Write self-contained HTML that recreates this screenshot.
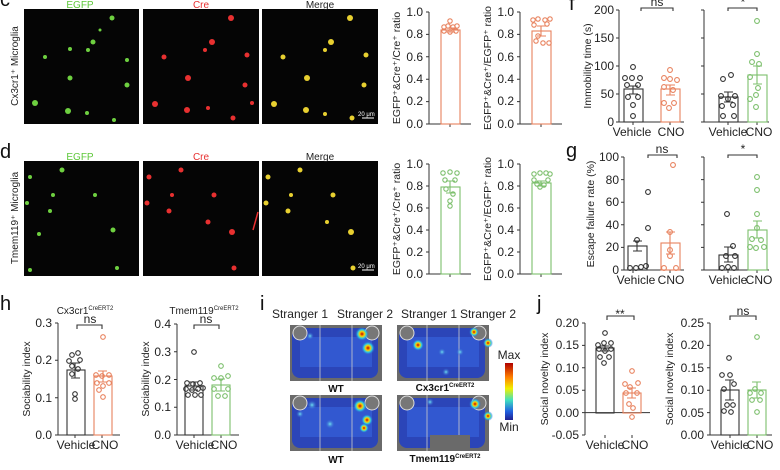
<!DOCTYPE html>
<html><head><meta charset="utf-8"><style>
body{margin:0;background:#fff}
svg{display:block;font-family:"Liberation Sans",Arial,sans-serif}
.t{font-size:12px;fill:#222}
.al{font-size:10.5px;fill:#222}
.ax{stroke:#333;stroke-width:1;fill:none}
.o{stroke:#e8825e;fill:none;stroke-width:1.1}
.g{stroke:#7cbf6c;fill:none;stroke-width:1.1}
.k{stroke:#333;fill:none;stroke-width:1.1}
.L{font-size:20px;fill:#111}
</style></head><body>
<svg width="780" height="470" viewBox="0 0 780 470">
<defs>
<radialGradient id="hot"><stop offset="0" stop-color="#c00000"/><stop offset=".35" stop-color="#ffd000"/><stop offset=".6" stop-color="#30d0e0"/><stop offset="1" stop-color="#2a50d0" stop-opacity="0"/></radialGradient>
<radialGradient id="cy"><stop offset="0" stop-color="#6fe0f0"/><stop offset="1" stop-color="#2a50d0" stop-opacity="0"/></radialGradient>
<linearGradient id="cb" x1="0" y1="0" x2="0" y2="1"><stop offset="0" stop-color="#b00000"/><stop offset=".25" stop-color="#ff8000"/><stop offset=".45" stop-color="#f0f000"/><stop offset=".65" stop-color="#40e0c0"/><stop offset=".85" stop-color="#2060e0"/><stop offset="1" stop-color="#202090"/></linearGradient>
</defs>

<!-- Microscopy -->
<g>
<rect x="24" y="9" width="115" height="115" fill="#050505"/><rect x="143" y="9" width="116" height="115" fill="#050505"/><rect x="262" y="9" width="116" height="115" fill="#050505"/>
<rect x="24" y="161" width="115" height="115" fill="#050505"/><rect x="143" y="161" width="116" height="115" fill="#050505"/><rect x="262" y="161" width="116" height="115" fill="#050505"/>
<g fill="#6ed040">
<circle cx="112" cy="18" r="2.5"/><circle cx="93" cy="42" r="2.5"/><circle cx="88" cy="50" r="2"/><circle cx="70" cy="49" r="2"/><circle cx="45" cy="57" r="2"/><circle cx="70" cy="78" r="2.5"/><circle cx="127" cy="60" r="2"/><circle cx="127" cy="85" r="2.5"/><circle cx="35" cy="103" r="3"/><circle cx="68" cy="111" r="3"/><circle cx="87" cy="113" r="2"/><circle cx="114" cy="120" r="2"/><circle cx="100" cy="30" r="1.5"/>
<circle cx="62" cy="170" r="2.5"/><circle cx="30" cy="177" r="2"/><circle cx="53" cy="195" r="2"/><circle cx="95" cy="195" r="2"/><circle cx="50" cy="211" r="2"/><circle cx="27" cy="203" r="2"/><circle cx="113" cy="230" r="2.5"/><circle cx="39" cy="234" r="2"/><circle cx="30" cy="270" r="2"/><circle cx="117" cy="268" r="2"/>
</g>
<g fill="#e83030">
<circle cx="231" cy="18" r="3"/><circle cx="212" cy="42" r="3"/><circle cx="205" cy="50" r="2"/><circle cx="164" cy="57" r="2.5"/><circle cx="188" cy="78" r="3"/><circle cx="247" cy="55" r="2.5"/><circle cx="245" cy="85" r="2.5"/><circle cx="155" cy="104" r="3"/><circle cx="187" cy="110" r="3"/><circle cx="208" cy="108" r="2"/><circle cx="233" cy="118" r="2.5"/><circle cx="252" cy="103" r="2"/>
<circle cx="181" cy="170" r="2.5"/><circle cx="149" cy="177" r="2.5"/><circle cx="172" cy="195" r="2"/><circle cx="214" cy="195" r="2.5"/><circle cx="169" cy="211" r="2.5"/><circle cx="147" cy="203" r="2.5"/><circle cx="232" cy="232" r="3"/><circle cx="208" cy="222" r="2.5"/><circle cx="234" cy="268" r="2.5"/>
<line x1="253" y1="230" x2="258" y2="212" stroke="#e83030" stroke-width="1.5"/>
</g>
<g fill="#e8d030">
<circle cx="350" cy="18" r="3"/><circle cx="331" cy="42" r="3"/><circle cx="325" cy="50" r="2"/><circle cx="283" cy="57" r="2.5"/><circle cx="307" cy="78" r="3"/><circle cx="366" cy="55" r="2.5"/><circle cx="364" cy="85" r="2.5"/><circle cx="274" cy="104" r="3"/><circle cx="306" cy="110" r="3"/><circle cx="325" cy="114" r="2"/><circle cx="352" cy="118" r="2.5"/>
<circle cx="300" cy="170" r="2.5"/><circle cx="268" cy="177" r="2.5"/><circle cx="291" cy="195" r="2"/><circle cx="333" cy="195" r="2.5"/><circle cx="288" cy="211" r="2.5"/><circle cx="266" cy="203" r="2.5"/><circle cx="351" cy="232" r="3"/><circle cx="327" cy="222" r="2"/><circle cx="353" cy="268" r="2.5"/>
</g>
<line x1="362" y1="118" x2="374" y2="118" stroke="#fff"/><text x="358" y="116" font-size="6" fill="#fff">20 μm</text>
<line x1="362" y1="270" x2="374" y2="270" stroke="#fff"/><text x="358" y="268" font-size="6" fill="#fff">20 μm</text>
<text x="80" y="8" text-anchor="middle" font-size="10" fill="#5ec83a">EGFP</text>
<text x="201" y="8" text-anchor="middle" font-size="10" fill="#e83030">Cre</text>
<text x="320" y="8" text-anchor="middle" font-size="10" fill="#222">Merge</text>
<text x="80" y="160" text-anchor="middle" font-size="10" fill="#5ec83a">EGFP</text>
<text x="201" y="160" text-anchor="middle" font-size="10" fill="#e83030">Cre</text>
<text x="320" y="160" text-anchor="middle" font-size="10" fill="#222">Merge</text>
<text transform="translate(18,66) rotate(-90)" text-anchor="middle" font-size="10" fill="#222">Cx3cr1⁺ Microglia</text>
<text transform="translate(18,218) rotate(-90)" text-anchor="middle" font-size="10" fill="#222">Tmem119⁺ Microglia</text>
<text x="0" y="158" class="L">d</text>
<text x="0" y="6" class="L">c</text>
</g>

<!-- c charts -->
<g>
<path class="ax" d="M429,12V124H471M426,12H429M426,34.4H429M426,56.8H429M426,79.2H429M426,101.6H429M426,124H429M450,124V127"/>
<g class="t" text-anchor="end"><text x="423" y="16">1.0</text><text x="423" y="38">0.8</text><text x="423" y="61">0.6</text><text x="423" y="83">0.4</text><text x="423" y="105">0.2</text><text x="423" y="128">0.0</text></g>
<text transform="translate(400,68) rotate(-90)" text-anchor="middle" class="al">EGFP⁺&amp;Cre⁺/Cre⁺ ratio</text>
<rect class="o" x="441" y="30" width="19" height="94"/><path class="o" d="M446,28H455M450,28V32M446,32H455"/>
<g class="o"><circle cx="450" cy="21" r="2.2"/><circle cx="444" cy="27" r="2.2"/><circle cx="448" cy="26" r="2.2"/><circle cx="453" cy="27" r="2.2"/><circle cx="457" cy="26" r="2.2"/><circle cx="444" cy="31" r="2.2"/><circle cx="450" cy="32" r="2.2"/><circle cx="456" cy="31" r="2.2"/></g>

<path class="ax" d="M520,12V124H562M517,12H520M517,34.4H520M517,56.8H520M517,79.2H520M517,101.6H520M517,124H520M541,124V127"/>
<g class="t" text-anchor="end"><text x="514" y="16">1.0</text><text x="514" y="38">0.8</text><text x="514" y="61">0.6</text><text x="514" y="83">0.4</text><text x="514" y="105">0.2</text><text x="514" y="128">0.0</text></g>
<text transform="translate(491,68) rotate(-90)" text-anchor="middle" class="al">EGFP⁺&amp;Cre⁺/EGFP⁺ ratio</text>
<rect class="o" x="532" y="31" width="19" height="93"/><path class="o" d="M537,26H546M541,26V36M537,36H546"/>
<g class="o"><circle cx="533" cy="20" r="2.2"/><circle cx="538" cy="19" r="2.2"/><circle cx="545" cy="20" r="2.2"/><circle cx="550" cy="19" r="2.2"/><circle cx="534" cy="25" r="2.2"/><circle cx="547" cy="24" r="2.2"/><circle cx="536" cy="41" r="2.2"/><circle cx="543" cy="43" r="2.2"/><circle cx="549" cy="43" r="2.2"/><circle cx="538" cy="36" r="2.2"/></g>
</g>

<!-- d charts -->
<g>
<path class="ax" d="M429,164V274H471M426,164H429M426,186H429M426,208H429M426,230H429M426,252H429M426,274H429M450,274V277"/>
<g class="t" text-anchor="end"><text x="423" y="168">1.0</text><text x="423" y="190">0.8</text><text x="423" y="212">0.6</text><text x="423" y="234">0.4</text><text x="423" y="256">0.2</text><text x="423" y="278">0.0</text></g>
<text transform="translate(400,219) rotate(-90)" text-anchor="middle" class="al">EGFP⁺&amp;Cre⁺/Cre⁺ ratio</text>
<rect class="g" x="441" y="187" width="19" height="87"/><path class="g" d="M446,181H455M450,181V193M446,193H455"/>
<g class="g"><circle cx="443" cy="173" r="2.2"/><circle cx="450" cy="172" r="2.2"/><circle cx="457" cy="173" r="2.2"/><circle cx="445" cy="180" r="2.2"/><circle cx="455" cy="180" r="2.2"/><circle cx="446" cy="189" r="2.2"/><circle cx="453" cy="194" r="2.2"/><circle cx="450" cy="201" r="2.2"/><circle cx="450" cy="206" r="2.2"/></g>

<path class="ax" d="M520,164V274H562M517,164H520M517,186H520M517,208H520M517,230H520M517,252H520M517,274H520M541,274V277"/>
<g class="t" text-anchor="end"><text x="514" y="168">1.0</text><text x="514" y="190">0.8</text><text x="514" y="212">0.6</text><text x="514" y="234">0.4</text><text x="514" y="256">0.2</text><text x="514" y="278">0.0</text></g>
<text transform="translate(491,219) rotate(-90)" text-anchor="middle" class="al">EGFP⁺&amp;Cre⁺/EGFP⁺ ratio</text>
<rect class="g" x="532" y="183" width="19" height="91"/><path class="g" d="M537,181H546M541,181V186M537,186H546"/>
<g class="g"><circle cx="534" cy="174" r="2.2"/><circle cx="540" cy="173" r="2.2"/><circle cx="546" cy="173" r="2.2"/><circle cx="550" cy="174" r="2.2"/><circle cx="534" cy="180" r="2.2"/><circle cx="548" cy="180" r="2.2"/><circle cx="537" cy="184" r="2.2"/><circle cx="544" cy="185" r="2.2"/><circle cx="540" cy="187" r="2.2"/></g>
</g>

<!-- f -->
<g>
<text x="569" y="10" class="L">f</text>
<path class="ax" d="M619,10V122H684M616,10H619M616,38H619M616,66H619M616,94H619M616,122H619M633,122V125M670,122V125"/>
<g class="t" text-anchor="end"><text x="614" y="14">200</text><text x="614" y="42">150</text><text x="614" y="70">100</text><text x="614" y="98">50</text><text x="614" y="126">0</text></g>
<text transform="translate(591,66) rotate(-90)" text-anchor="middle" class="al">Immobility time (s)</text>
<rect class="k" x="624" y="89" width="19" height="33"/><path class="k" d="M629,86H638M633,86V94M629,94H638"/>
<rect class="o" x="661" y="89" width="19" height="33"/><path class="o" d="M666,85H675M670,85V95M666,95H675"/>
<g class="k"><circle cx="633" cy="67" r="2.4"/><circle cx="625" cy="78" r="2.4"/><circle cx="632" cy="78" r="2.4"/><circle cx="640" cy="78" r="2.4"/><circle cx="627" cy="85" r="2.4"/><circle cx="638" cy="85" r="2.4"/><circle cx="628" cy="97" r="2.4"/><circle cx="638" cy="97" r="2.4"/><circle cx="633" cy="105" r="2.4"/><circle cx="633" cy="116" r="2.4"/></g>
<g class="o"><circle cx="670" cy="70" r="2.4"/><circle cx="664" cy="78" r="2.4"/><circle cx="670" cy="79" r="2.4"/><circle cx="677" cy="80" r="2.4"/><circle cx="664" cy="87" r="2.4"/><circle cx="673" cy="90" r="2.4"/><circle cx="664" cy="103" r="2.4"/><circle cx="674" cy="103" r="2.4"/><circle cx="669" cy="108" r="2.4"/></g>
<path class="k" d="M641,11V8H673V11"/><text x="657" y="6" text-anchor="middle" class="t">ns</text>
<g class="t" text-anchor="middle"><text x="632" y="136">Vehicle</text><text x="671" y="136">CNO</text></g>

<path class="ax" d="M704,10V122H769M701,10H704M701,38H704M701,66H704M701,94H704M701,122H704M728,122V125M757,122V125"/>
<rect class="k" x="719" y="97" width="19" height="25"/><path class="k" d="M724,92H733M728,92V102M724,102H733"/>
<rect class="g" x="748" y="75" width="19" height="47"/><path class="g" d="M753,66H762M757,66V84M753,84H762"/>
<g class="k"><circle cx="723" cy="79" r="2.4"/><circle cx="731" cy="75" r="2.4"/><circle cx="721" cy="96" r="2.4"/><circle cx="735" cy="96" r="2.4"/><circle cx="728" cy="99" r="2.4"/><circle cx="722" cy="106" r="2.4"/><circle cx="733" cy="105" r="2.4"/><circle cx="723" cy="116" r="2.4"/><circle cx="734" cy="116" r="2.4"/></g>
<g class="g"><circle cx="757" cy="21" r="2.4"/><circle cx="757" cy="54" r="2.4"/><circle cx="752" cy="62" r="2.4"/><circle cx="759" cy="64" r="2.4"/><circle cx="750" cy="77" r="2.4"/><circle cx="758" cy="88" r="2.4"/><circle cx="756" cy="95" r="2.4"/><circle cx="750" cy="99" r="2.4"/><circle cx="756" cy="107" r="2.4"/></g>
<path class="k" d="M728,11V8H757V11"/><text x="743" y="6" text-anchor="middle" class="t">*</text>
<g class="t" text-anchor="middle"><text x="728" y="136">Vehicle</text><text x="759" y="136">CNO</text></g>
</g>

<!-- g -->
<g>
<text x="566" y="157" class="L">g</text>
<path class="ax" d="M624,157V270H684M621,157H624M621,179.6H624M621,202.2H624M621,224.8H624M621,247.4H624M621,270H624M633,270V273M670,270V273"/>
<g class="t" text-anchor="end"><text x="619" y="161">100</text><text x="619" y="184">80</text><text x="619" y="206">60</text><text x="619" y="229">40</text><text x="619" y="251">20</text><text x="619" y="274">0</text></g>
<text transform="translate(594,214) rotate(-90)" text-anchor="middle" class="al">Escape failure rate (%)</text>
<rect class="k" x="628" y="246" width="19" height="24"/><path class="k" d="M633,241H642M637,241V251M633,251H642"/>
<rect class="o" x="661" y="243" width="19" height="27"/><path class="o" d="M666,232H675M670,232V254M666,254H675"/>
<g class="k"><circle cx="648" cy="192" r="2.4"/><circle cx="648" cy="228" r="2.4"/><circle cx="637" cy="240" r="2.4"/><circle cx="630" cy="268" r="2.4"/><circle cx="636" cy="268" r="2.4"/><circle cx="641" cy="267" r="2.4"/><circle cx="646" cy="266" r="2.4"/></g>
<g class="o"><circle cx="673" cy="165" r="2.4"/><circle cx="670" cy="232" r="2.4"/><circle cx="670" cy="250" r="2.4"/><circle cx="670" cy="256" r="2.4"/><circle cx="664" cy="268" r="2.4"/><circle cx="676" cy="268" r="2.4"/></g>
<path class="k" d="M648,158V155H677V158"/><text x="662" y="153" text-anchor="middle" class="t">ns</text>
<g class="t" text-anchor="middle"><text x="636" y="284">Vehicle</text><text x="671" y="284">CNO</text></g>

<path class="ax" d="M704,157V270H769M701,157H704M701,179.6H704M701,202.2H704M701,224.8H704M701,247.4H704M701,270H704M728,270V273M757,270V273"/>
<rect class="k" x="719" y="255" width="19" height="15"/><path class="k" d="M724,247H733M728,247V262M724,262H733"/>
<rect class="g" x="748" y="230" width="19" height="40"/><path class="g" d="M753,221H762M757,221V238M753,238H762"/>
<g class="k"><circle cx="727" cy="214" r="2.4"/><circle cx="733" cy="246" r="2.4"/><circle cx="726" cy="256" r="2.4"/><circle cx="735" cy="256" r="2.4"/><circle cx="722" cy="268" r="2.4"/><circle cx="728" cy="267" r="2.4"/><circle cx="734" cy="268" r="2.4"/></g>
<g class="g"><circle cx="757" cy="177" r="2.4"/><circle cx="757" cy="190" r="2.4"/><circle cx="757" cy="214" r="2.4"/><circle cx="757" cy="228" r="2.4"/><circle cx="752" cy="239" r="2.4"/><circle cx="761" cy="240" r="2.4"/><circle cx="750" cy="247" r="2.4"/><circle cx="756" cy="248" r="2.4"/><circle cx="764" cy="247" r="2.4"/></g>
<path class="k" d="M728,158V155H757V158"/><text x="743" y="153" text-anchor="middle" class="t">*</text>
<g class="t" text-anchor="middle"><text x="728" y="284">Vehicle</text><text x="759" y="284">CNO</text></g>
</g>

<!-- h -->
<g>
<text x="0" y="310" class="L">h</text>
<text x="85" y="314" text-anchor="middle" font-size="10" fill="#222">Cx3cr1<tspan font-size="6" dy="-4">CreERT2</tspan></text>
<path class="ax" d="M58,323V435H120M55,323H58M55,360.3H58M55,397.7H58M55,435H58M75,435V438M102,435V438"/>
<g class="t" text-anchor="end"><text x="52" y="327">0.3</text><text x="52" y="364">0.2</text><text x="52" y="402">0.1</text><text x="52" y="439">0.0</text></g>
<text transform="translate(30,379) rotate(-90)" text-anchor="middle" class="al">Sociability index</text>
<rect class="k" x="67" y="370" width="18" height="65"/><path class="k" d="M71,363H80M75,363V378M71,378H80"/>
<rect class="o" x="94" y="376" width="18" height="59"/><path class="o" d="M98,371H107M103,371V382M98,382H107"/>
<g class="k"><circle cx="72" cy="355" r="2.3"/><circle cx="78" cy="353" r="2.3"/><circle cx="69" cy="361" r="2.3"/><circle cx="80" cy="360" r="2.3"/><circle cx="72" cy="366" r="2.3"/><circle cx="78" cy="369" r="2.3"/><circle cx="72" cy="374" r="2.3"/><circle cx="75" cy="394" r="2.3"/><circle cx="75" cy="399" r="2.3"/></g>
<g class="o"><circle cx="103" cy="337" r="2.3"/><circle cx="96" cy="375" r="2.3"/><circle cx="102" cy="376" r="2.3"/><circle cx="109" cy="375" r="2.3"/><circle cx="97" cy="383" r="2.3"/><circle cx="109" cy="383" r="2.3"/><circle cx="103" cy="386" r="2.3"/><circle cx="99" cy="390" r="2.3"/><circle cx="103" cy="397" r="2.3"/></g>
<path class="k" d="M77,329V325H102V329"/><text x="90" y="323" text-anchor="middle" class="t">ns</text>
<g class="t" text-anchor="middle"><text x="76" y="449">Vehicle</text><text x="105" y="449">CNO</text></g>

<text x="204" y="314" text-anchor="middle" font-size="10" fill="#222">Tmem119<tspan font-size="6" dy="-4">CreERT2</tspan></text>
<path class="ax" d="M177,324V435H239M174,324H177M174,351.8H177M174,379.5H177M174,407.3H177M174,435H177M194,435V438M221,435V438"/>
<g class="t" text-anchor="end"><text x="171" y="328">0.4</text><text x="171" y="356">0.3</text><text x="171" y="384">0.2</text><text x="171" y="411">0.1</text><text x="171" y="439">0.0</text></g>
<text transform="translate(149,379) rotate(-90)" text-anchor="middle" class="al">Sociability index</text>
<rect class="k" x="185" y="386" width="18" height="49"/><path class="k" d="M189,382H198M194,382V390M189,390H198"/>
<rect class="g" x="212" y="385" width="18" height="50"/><path class="g" d="M216,379H225M221,379V391M216,391H225"/>
<g class="k"><circle cx="194" cy="352" r="2.3"/><circle cx="187" cy="383" r="2.3"/><circle cx="193" cy="384" r="2.3"/><circle cx="200" cy="383" r="2.3"/><circle cx="186" cy="389" r="2.3"/><circle cx="192" cy="390" r="2.3"/><circle cx="198" cy="389" r="2.3"/><circle cx="203" cy="388" r="2.3"/><circle cx="188" cy="395" r="2.3"/><circle cx="195" cy="395" r="2.3"/><circle cx="201" cy="395" r="2.3"/></g>
<g class="g"><circle cx="221" cy="366" r="2.3"/><circle cx="214" cy="378" r="2.3"/><circle cx="221" cy="378" r="2.3"/><circle cx="228" cy="376" r="2.3"/><circle cx="214" cy="389" r="2.3"/><circle cx="228" cy="389" r="2.3"/><circle cx="218" cy="396" r="2.3"/><circle cx="225" cy="396" r="2.3"/></g>
<path class="k" d="M194,329V325H219V329"/><text x="206" y="323" text-anchor="middle" class="t">ns</text>
<g class="t" text-anchor="middle"><text x="195" y="449">Vehicle</text><text x="224" y="449">CNO</text></g>
</g>

<!-- i heatmaps -->
<g>
<text x="260" y="310" class="L">i</text>
<g class="t" text-anchor="middle" font-size="10.5"><text x="300" y="318">Stranger 1</text><text x="365" y="318">Stranger 2</text><text x="429" y="318">Stranger 1</text><text x="488" y="318">Stranger 2</text></g>
<g id="hm">
<rect x="290" y="325" width="92" height="56" fill="#6a6a6a"/>
<rect x="292" y="328" width="86" height="50" rx="8" fill="#2b45b8"/>
<rect x="300" y="337" width="72" height="30" fill="#3258d0"/>
<circle cx="300" cy="333" r="7" fill="#777" stroke="#ddd"/><circle cx="372" cy="333" r="7" fill="#777" stroke="#ddd"/>
<line x1="320" y1="325" x2="320" y2="381" stroke="#ccc" stroke-width=".8"/><line x1="352" y1="325" x2="352" y2="381" stroke="#ccc" stroke-width=".8"/>
</g>
<circle cx="362" cy="334" r="7" fill="url(#hot)"/><circle cx="368" cy="348" r="7" fill="url(#hot)"/><circle cx="310" cy="336" r="4" fill="url(#cy)"/>
<text x="336" y="392" text-anchor="middle" font-size="10" font-weight="bold" fill="#111">WT</text>

<use href="#hm" transform="translate(0,70)"/>
<circle cx="360" cy="406" r="7" fill="url(#hot)"/><circle cx="367" cy="420" r="6" fill="url(#hot)"/><circle cx="364" cy="428" r="5" fill="url(#hot)"/><circle cx="312" cy="405" r="5" fill="url(#cy)"/><circle cx="330" cy="424" r="5" fill="url(#cy)"/><circle cx="300" cy="414" r="4" fill="url(#cy)"/>
<text x="336" y="463" text-anchor="middle" font-size="10" font-weight="bold" fill="#111">WT</text>

<use href="#hm" transform="translate(107,0)"/>
<circle cx="418" cy="345" r="6" fill="url(#hot)"/><circle cx="474" cy="332" r="5" fill="url(#hot)"/><circle cx="488" cy="343" r="5" fill="url(#hot)"/><circle cx="442" cy="352" r="4" fill="url(#cy)"/><circle cx="460" cy="352" r="4" fill="url(#cy)"/><circle cx="446" cy="372" r="4" fill="url(#cy)"/>
<text x="445" y="391" text-anchor="middle" font-size="10" font-weight="bold" fill="#111">Cx3cr1<tspan font-size="6" dy="-4">CreERT2</tspan></text>
<use href="#hm" transform="translate(107,70)"/>
<rect x="430" y="435" width="40" height="16" fill="#6a6a6a"/>
<circle cx="475" cy="404" r="6" fill="url(#hot)"/><circle cx="488" cy="416" r="5" fill="url(#hot)"/><circle cx="430" cy="402" r="4" fill="url(#cy)"/>
<text x="445" y="462" text-anchor="middle" font-size="10" font-weight="bold" fill="#111">Tmem119<tspan font-size="6" dy="-4">CreERT2</tspan></text>
<rect x="505" y="363" width="8" height="57" fill="url(#cb)"/>
<text x="509" y="359" text-anchor="middle" class="t">Max</text><text x="509" y="431" text-anchor="middle" class="t">Min</text>
</g>

<!-- j -->
<g>
<text x="537" y="310" class="L">j</text>
<path class="ax" d="M585,323V435M585,412.6H650M582,323H585M582,345.4H585M582,367.8H585M582,390.2H585M582,412.6H585M582,435H585M605,435V438M632,435V438"/>
<g class="t" text-anchor="end"><text x="579" y="327">0.20</text><text x="579" y="349">0.15</text><text x="579" y="372">0.10</text><text x="579" y="394">0.05</text><text x="579" y="417">0.00</text><text x="579" y="439">-0.05</text></g>
<text transform="translate(548,379) rotate(-90)" text-anchor="middle" class="al">Social novelty index</text>
<rect class="k" x="596" y="348" width="18" height="65"/><path class="k" d="M600,346H609M605,346V351M600,351H609"/>
<rect class="o" x="623" y="393" width="18" height="20"/><path class="o" d="M627,388H636M632,388V398M627,398H636"/>
<g class="k"><circle cx="605" cy="333" r="2.3"/><circle cx="598" cy="345" r="2.3"/><circle cx="604" cy="343" r="2.3"/><circle cx="611" cy="343" r="2.3"/><circle cx="599" cy="349" r="2.3"/><circle cx="611" cy="349" r="2.3"/><circle cx="605" cy="351" r="2.3"/><circle cx="600" cy="357" r="2.3"/><circle cx="609" cy="357" r="2.3"/><circle cx="604" cy="363" r="2.3"/></g>
<g class="o"><circle cx="632" cy="371" r="2.3"/><circle cx="625" cy="384" r="2.3"/><circle cx="638" cy="383" r="2.3"/><circle cx="630" cy="387" r="2.3"/><circle cx="626" cy="393" r="2.3"/><circle cx="637" cy="393" r="2.3"/><circle cx="629" cy="404" r="2.3"/><circle cx="633" cy="408" r="2.3"/><circle cx="632" cy="417" r="2.3"/></g>
<path class="k" d="M607,320V316H634V320"/><text x="620" y="318" text-anchor="middle" class="t">**</text>
<g class="t" text-anchor="middle"><text x="605" y="449">Vehicle</text><text x="635" y="449">CNO</text></g>

<path class="ax" d="M710,323V435H772M707,323H710M707,345.4H710M707,367.8H710M707,390.2H710M707,412.6H710M707,435H710M730,435V438M757,435V438"/>
<g class="t" text-anchor="end"><text x="704" y="327">0.25</text><text x="704" y="349">0.20</text><text x="704" y="372">0.15</text><text x="704" y="394">0.10</text><text x="704" y="417">0.05</text><text x="704" y="439">0.00</text></g>
<text transform="translate(673,379) rotate(-90)" text-anchor="middle" class="al">Social novelty index</text>
<rect class="k" x="721" y="390" width="18" height="45"/><path class="k" d="M725,380H734M730,380V400M725,400H734"/>
<rect class="g" x="748" y="390" width="18" height="45"/><path class="g" d="M752,382H761M757,382V398M752,398H761"/>
<g class="k"><circle cx="729" cy="358" r="2.3"/><circle cx="722" cy="375" r="2.3"/><circle cx="730" cy="375" r="2.3"/><circle cx="734" cy="384" r="2.3"/><circle cx="724" cy="389" r="2.3"/><circle cx="727" cy="405" r="2.3"/><circle cx="733" cy="405" r="2.3"/><circle cx="724" cy="411" r="2.3"/><circle cx="731" cy="412" r="2.3"/></g>
<g class="g"><circle cx="757" cy="337" r="2.3"/><circle cx="755" cy="389" r="2.3"/><circle cx="750" cy="393" r="2.3"/><circle cx="761" cy="393" r="2.3"/><circle cx="752" cy="400" r="2.3"/><circle cx="760" cy="400" r="2.3"/><circle cx="757" cy="412" r="2.3"/></g>
<path class="k" d="M730,320V316H756V320"/><text x="743" y="315" text-anchor="middle" class="t">ns</text>
<g class="t" text-anchor="middle"><text x="730" y="449">Vehicle</text><text x="760" y="449">CNO</text></g>
</g>
</svg>
</body></html>
